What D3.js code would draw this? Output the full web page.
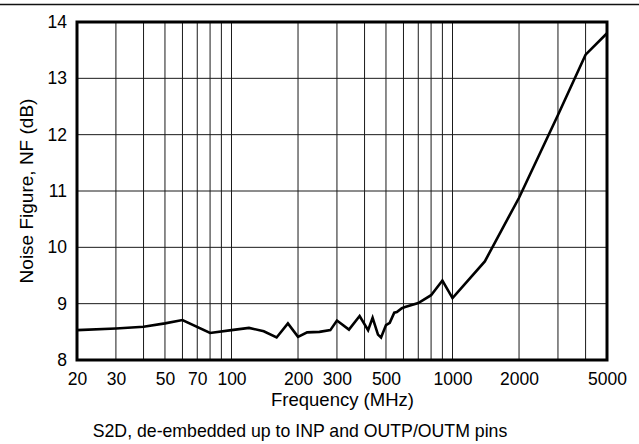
<!DOCTYPE html>
<html>
<head>
<meta charset="utf-8">
<script src="https://cdn.jsdelivr.net/npm/d3@7/dist/d3.min.js"></script>
<style>
  html, body { margin: 0; padding: 0; background: #fff; }
  svg { display: block; font-family: Arial, "Liberation Sans", Helvetica, sans-serif; }
</style>
</head>
<body>
<svg id="chart" width="639" height="444"></svg>
<script>
// Noise figure vs frequency
const freqMHz = [20, 30, 40, 50, 60, 80, 100, 120, 140, 160, 180, 200, 220, 250, 280, 300,
  340, 380, 415, 435, 460, 475, 500, 520, 545, 560, 590, 610, 700, 800, 900, 1000,
  1400, 2000, 3000, 4000, 5000];
const noiseFigure = [8.53, 8.56, 8.59, 8.65, 8.71, 8.48, 8.53, 8.57, 8.51, 8.40, 8.65, 8.41, 8.49, 8.50, 8.53, 8.70,
  8.54, 8.78, 8.53, 8.75, 8.45, 8.40, 8.62, 8.66, 8.84, 8.85, 8.92, 8.94, 9.01, 9.15, 9.41, 9.10,
  9.75, 10.88, 12.35, 13.42, 13.80];

const xGridValues = [20, 30, 40, 50, 60, 70, 80, 90, 100, 200, 300, 400, 500, 600, 700, 800, 900,
  1000, 2000, 3000, 4000, 5000];
const xTickLabels = [20, 30, 50, 70, 100, 200, 300, 500, 1000, 2000, 5000];
const yTickLabels = [8, 9, 10, 11, 12, 13, 14];

const xTitle = "Frequency (MHz)";
const yTitle = "Noise Figure, NF (dB)";
const caption = "S2D, de-embedded up to INP and OUTP/OUTM pins";

const svg = d3.select("#chart");
const W = 639;
const m = { left: 77, top: 22, right: 32, bottom: 84 };
const pw = W - m.left - m.right;
const ph = 444 - m.top - m.bottom;

const x = d3.scaleLog().domain([20, 5000]).range([m.left, m.left + pw]);
const y = d3.scaleLinear().domain([8, 14]).range([m.top + ph, m.top]);

// rule across the top of the figure
svg.append("line")
  .attr("x1", 0).attr("x2", W).attr("y1", 4.5).attr("y2", 4.5)
  .attr("stroke", "#111").attr("stroke-width", 1.5);

// vertical grid
svg.append("g").selectAll("line").data(xGridValues).join("line")
  .attr("x1", d => x(d)).attr("x2", d => x(d))
  .attr("y1", m.top).attr("y2", m.top + ph)
  .attr("stroke", "#1a1a1a").attr("stroke-width", 1);

// horizontal grid
svg.append("g").selectAll("line").data(yTickLabels).join("line")
  .attr("x1", m.left).attr("x2", m.left + pw)
  .attr("y1", d => y(d)).attr("y2", d => y(d))
  .attr("stroke", "#1a1a1a").attr("stroke-width", 1);

// x axis labels
const xAxis = d3.axisBottom(x).tickValues(xTickLabels).tickFormat(d3.format("d")).tickSize(0).tickPadding(13);
svg.append("g").attr("transform", `translate(0,${m.top + ph})`).call(xAxis)
  .call(g => g.select(".domain").remove())
  .selectAll("text").attr("fill", "#000").attr("font-size", 17.5).attr("font-family", "Arial, 'Liberation Sans', sans-serif");

// y axis labels
const yAxis = d3.axisLeft(y).tickValues(yTickLabels).tickFormat(d3.format("d")).tickSize(0).tickPadding(10);
svg.append("g").attr("transform", `translate(${m.left},0)`).call(yAxis)
  .call(g => g.select(".domain").remove())
  .selectAll("text").attr("fill", "#000").attr("font-size", 17.5).attr("font-family", "Arial, 'Liberation Sans', sans-serif");

// data line
const line = d3.line().x((d, i) => x(freqMHz[i])).y(d => y(d));
svg.append("path").datum(noiseFigure)
  .attr("d", line)
  .attr("fill", "none").attr("stroke", "#000").attr("stroke-width", 2.6)
  .attr("stroke-linejoin", "miter");

// plot frame
svg.append("rect")
  .attr("x", m.left).attr("y", m.top).attr("width", pw).attr("height", ph)
  .attr("fill", "none").attr("stroke", "#000").attr("stroke-width", 3);

// titles
svg.append("text")
  .attr("x", 342.5).attr("y", 406)
  .attr("text-anchor", "middle").attr("font-size", 18.5).attr("fill", "#000")
  .text(xTitle);

svg.append("text")
  .attr("transform", `translate(33,${m.top + ph / 2}) rotate(-90)`)
  .attr("text-anchor", "middle").attr("font-size", 19).attr("fill", "#000")
  .text(yTitle);

svg.append("text")
  .attr("x", 300).attr("y", 437)
  .attr("text-anchor", "middle").attr("font-size", 17.7).attr("fill", "#000")
  .text(caption);
</script>
</body>
</html>
